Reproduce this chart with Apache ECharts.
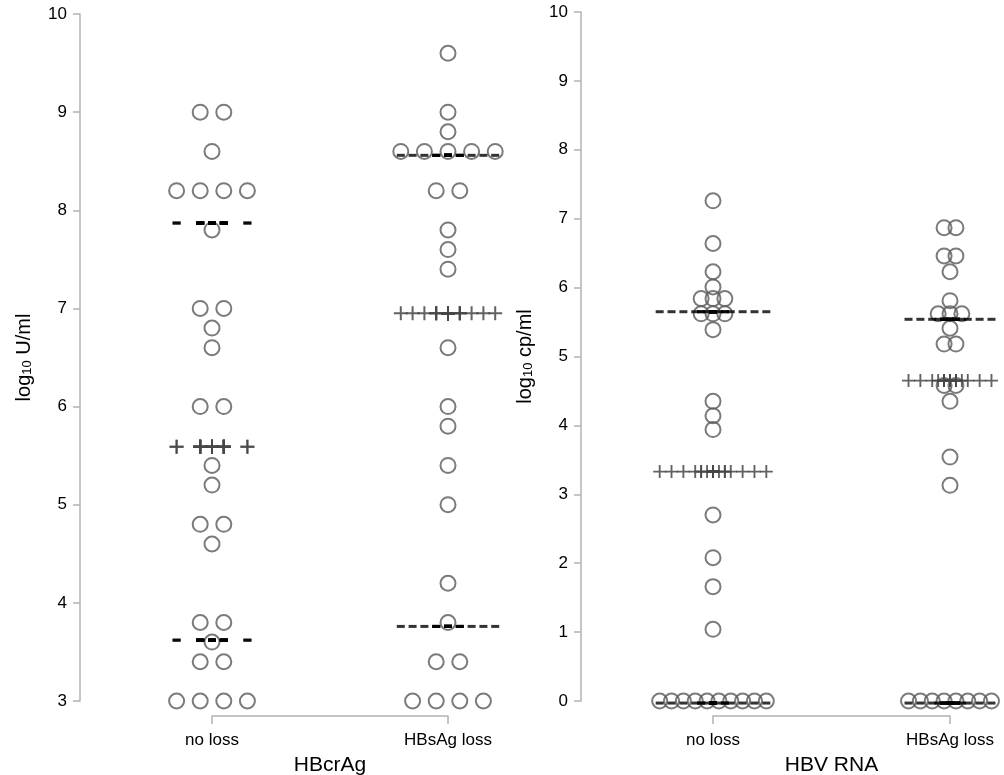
<!DOCTYPE html>
<html>
<head>
<meta charset="utf-8">
<script src="https://cdn.jsdelivr.net/npm/echarts@6/dist/echarts.min.js"></script>
<style>
html,body{margin:0;padding:0;background:#fff;}
#chart{width:1004px;height:775px;}
</style>
</head>
<body>
<div id="chart"></div>
<script>
// ---------------- DATA ----------------
const categories = ['no loss', 'HBsAg loss'];
const panelTitles = ['HBcrAg', 'HBV RNA'];

// HBcrAg (log10 U/ml)
const crNoLoss = [9.0, 9.0, 8.6, 8.2, 8.2, 8.2, 8.2, 7.8, 7.0, 7.0, 6.8, 6.6, 6.0, 6.0,
  5.4, 5.2, 4.8, 4.8, 4.6, 3.8, 3.8, 3.6, 3.4, 3.4, 3.0, 3.0, 3.0, 3.0];
const crLoss = [9.6, 9.0, 8.8, 8.6, 8.6, 8.6, 8.6, 8.6, 8.2, 8.2, 7.8, 7.6, 7.4, 6.6,
  6.0, 5.8, 5.4, 5.0, 4.2, 3.8, 3.4, 3.4, 3.0, 3.0, 3.0, 3.0];
// HBV RNA (log10 cp/ml)
const rnaNoLoss = [7.26, 6.64, 6.23, 6.01, 5.84, 5.84, 5.84, 5.62, 5.62, 5.62, 5.39,
  4.35, 4.14, 3.94, 2.70, 2.08, 1.66, 1.04, 0, 0, 0, 0, 0, 0, 0, 0, 0, 0];
const rnaLoss = [6.87, 6.87, 6.46, 6.46, 6.23, 5.81, 5.62, 5.62, 5.62, 5.41, 5.18, 5.18,
  4.58, 4.58, 4.35, 3.54, 3.13, 0, 0, 0, 0, 0, 0, 0, 0];

// summary lines: [median, lower quartile, upper quartile]
const crNoLossStats = [5.59, 3.62, 7.87];
const crLossStats = [6.95, 3.76, 8.56];
const rnaNoLossStats = [3.33, -0.03, 5.65];
const rnaLossStats = [4.65, -0.03, 5.54];

// y-axis ranges / ticks
const crTicks = [3, 10, 1];
const rnaTicks = [0, 10, 1];

// ---------------- LAYOUT ----------------
const PITCH = [0.1, 0.05];   // horizontal spacing of equal values, in category units

function swarm(values, center, pitch) {
  const counts = new Map();
  values.forEach(v => counts.set(v, (counts.get(v) || 0) + 1));
  const seen = new Map();
  return values.map(v => {
    const n = counts.get(v);
    const i = seen.get(v) || 0;
    seen.set(v, i + 1);
    return [center + (i - (n - 1) / 2) * pitch, v];
  });
}
function statRow(points, y) {
  return points.map(p => [p[0], y]);
}

const PLUS = 'path://M6,0H8V6H14V8H8V14H6V8H0V6H6Z';
const axisGray = '#b3b3b3';

const panels = [
  {groups: [crNoLoss, crLoss], stats: [crNoLossStats, crLossStats], ticks: crTicks,
   grid: {left: 212, width: 236, top: 14, height: 687}, unit: 'U/ml', plus: 14},
  {groups: [rnaNoLoss, rnaLoss], stats: [rnaNoLossStats, rnaLossStats], ticks: rnaTicks,
   grid: {left: 713, width: 237, top: 12, height: 689}, unit: 'cp/ml', plus: 13}
];

const grids = [], xAxes = [], yAxes = [], series = [];
panels.forEach((p, k) => {
  grids.push(Object.assign({containLabel: false, outerBoundsMode: 'none'}, p.grid));
  xAxes.push({
    gridIndex: k, type: 'value', min: 1, max: 2, interval: 1, offset: 15,
    name: panelTitles[k], nameLocation: 'middle', nameGap: 39,
    nameTextStyle: {fontSize: 21, color: '#000', fontFamily: 'Liberation Sans'},
    axisLine: {show: true, onZero: false, lineStyle: {color: axisGray, width: 1.5}},
    axisTick: {show: true, length: 8, lineStyle: {color: axisGray, width: 1.5}},
    axisLabel: {margin: 16, fontSize: 17, color: '#000', fontFamily: 'Liberation Sans',
      formatter: v => categories[Math.round(v) - 1] || ''},
    splitLine: {show: false}
  });
  yAxes.push({
    gridIndex: k, type: 'value', min: p.ticks[0], max: p.ticks[1], interval: p.ticks[2], offset: 132,
    name: '{a|log}{s|10}{a| ' + p.unit + '}', nameLocation: 'middle', nameGap: 46, nameRotate: 90,
    nameTextStyle: {color: '#000', fontFamily: 'Liberation Sans',
      rich: {a: {fontSize: 20, color: '#000', fontFamily: 'Liberation Sans'},
             s: {fontSize: 13, color: '#000', fontFamily: 'Liberation Sans', verticalAlign: 'bottom'}}},
    axisLine: {show: true, onZero: false, lineStyle: {color: axisGray, width: 1.5}},
    axisTick: {show: true, length: 7, lineStyle: {color: axisGray, width: 1.5}},
    axisLabel: {margin: 13, fontSize: 17, color: '#000', fontFamily: 'Liberation Sans'},
    splitLine: {show: false}
  });
  const pts = p.groups.map((g, gi) => swarm(g, gi + 1, PITCH[k]));
  series.push({
    type: 'scatter', xAxisIndex: k, yAxisIndex: k, clip: false, silent: true,
    symbol: 'circle', symbolSize: 15,
    itemStyle: {color: 'rgba(0,0,0,0)', borderColor: '#5a5a5a', borderWidth: 2},
    data: pts[0].concat(pts[1]), z: 2
  });
  const med = [], quart = [];
  pts.forEach((gp, gi) => {
    const s = p.stats[gi];
    med.push(...statRow(gp, s[0]));
    quart.push(...statRow(gp, s[1]), ...statRow(gp, s[2]));
  });
  series.push({
    type: 'scatter', xAxisIndex: k, yAxisIndex: k, clip: false, silent: true,
    symbol: PLUS, symbolSize: p.plus, itemStyle: {color: '#474747', opacity: 0.85},
    data: med, z: 3
  });
  series.push({
    type: 'scatter', xAxisIndex: k, yAxisIndex: k, clip: false, silent: true,
    symbol: 'rect', symbolSize: [8, 3], itemStyle: {color: '#000'},
    data: quart, z: 4
  });
});

const chart = echarts.init(document.getElementById('chart'), null, {renderer: 'canvas'});
chart.setOption({
  backgroundColor: '#fff',
  animation: false,
  grid: grids, xAxis: xAxes, yAxis: yAxes, series: series
});
</script>
</body>
</html>
